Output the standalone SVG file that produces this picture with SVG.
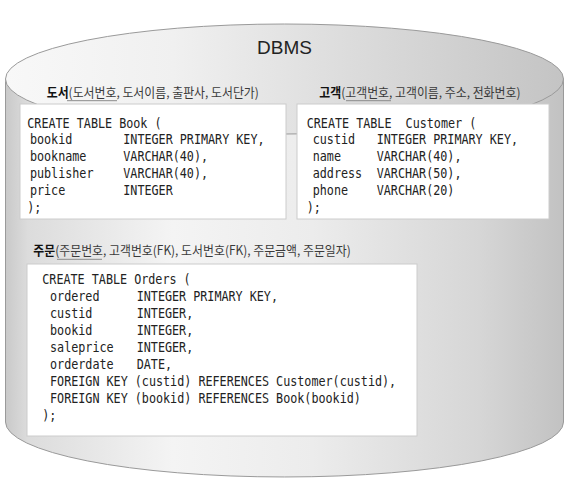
<svg xmlns="http://www.w3.org/2000/svg" width="569" height="487" viewBox="0 0 569 487">
<defs>
<linearGradient id="gBody" x1="0" y1="0" x2="1" y2="0">
<stop offset="0" stop-color="#c9c9c9"/>
<stop offset="0.04" stop-color="#dcdcdc"/>
<stop offset="0.3" stop-color="#f4f4f4"/>
<stop offset="0.55" stop-color="#ececec"/>
<stop offset="0.85" stop-color="#d6d6d6"/>
<stop offset="1" stop-color="#c2c2c2"/>
</linearGradient>
<linearGradient id="gTop" x1="0" y1="0" x2="1" y2="0">
<stop offset="0" stop-color="#f8f8f8"/>
<stop offset="0.3" stop-color="#f0f0f0"/>
<stop offset="0.6" stop-color="#dddddd"/>
<stop offset="1" stop-color="#c4c4c4"/>
</linearGradient>
</defs>
<style>
.cyl{stroke:#9a9a9a;stroke-width:1}
.box{fill:#ffffff;stroke:#cccccc;stroke-width:1}
.code{font-family:"DejaVu Sans Mono","Liberation Mono",monospace;font-size:13.5px;fill:#222222;white-space:pre}
.lbl{font-family:"Noto Sans CJK KR","Noto Sans",sans-serif;font-size:12.8px;fill:#3a3a3a}
.lbl .b{font-weight:bold;fill:#111111}
.ul{stroke:#8a8a8a;stroke-width:1}
.title{font-family:"Liberation Sans",Arial,sans-serif;font-size:19px;fill:#222222}
</style>
<g id="dbms">
<path class="cyl" d="M5.5,79 L5.5,422 A279,55 0 0 0 563.5,422 L563.5,79 Z" fill="url(#gBody)"/>
<ellipse class="cyl" cx="284.5" cy="79" rx="279" ry="55" fill="url(#gTop)"/>
<text class="title" x="284.5" y="54" text-anchor="middle">DBMS</text>
</g>
<g id="book">
<g transform="translate(46.7,97) scale(0.93,1)"><text class="lbl" x="0" y="0"><tspan class="b">도서</tspan>(도서번호, 도서이름, 출판사, 도서단가)</text></g>
<line class="ul" x1="67" y1="100.7" x2="117" y2="100.7"/>
<rect class="box" x="20" y="104" width="266" height="115"/>
<g transform="translate(27.3,127.5) scale(0.87,1)">
<text class="code" x="0" y="0">CREATE TABLE Book (</text>
<text class="code" x="3" y="17">bookid</text><text class="code" x="110.3" y="17">INTEGER PRIMARY KEY,</text>
<text class="code" x="3" y="34">bookname</text><text class="code" x="110.3" y="34">VARCHAR(40),</text>
<text class="code" x="3" y="51">publisher</text><text class="code" x="110.3" y="51">VARCHAR(40),</text>
<text class="code" x="3" y="68">price</text><text class="code" x="110.3" y="68">INTEGER</text>
<text class="code" x="0" y="85">);</text>
</g>
</g>
<g id="customer">
<g transform="translate(319.3,97) scale(0.93,1)"><text class="lbl" x="0" y="0"><tspan class="b">고객</tspan>(고객번호, 고객이름, 주소, 전화번호)</text></g>
<line class="ul" x1="346" y1="100.7" x2="391" y2="100.7"/>
<rect class="box" x="297" y="104" width="252" height="115"/>
<g transform="translate(306.7,127.5) scale(0.87,1)">
<text class="code" x="0" y="0">CREATE TABLE  Customer (</text>
<text class="code" x="6.9" y="17">custid</text><text class="code" x="80.5" y="17">INTEGER PRIMARY KEY,</text>
<text class="code" x="6.9" y="34">name</text><text class="code" x="80.5" y="34">VARCHAR(40),</text>
<text class="code" x="6.9" y="51">address</text><text class="code" x="80.5" y="51">VARCHAR(50),</text>
<text class="code" x="6.9" y="68">phone</text><text class="code" x="80.5" y="68">VARCHAR(20)</text>
<text class="code" x="0" y="85">);</text>
</g>
</g>
<g id="orders">
<g transform="translate(33.3,255) scale(0.93,1)"><text class="lbl" x="0" y="0"><tspan class="b">주문</tspan>(주문번호, 고객번호(FK), 도서번호(FK), 주문금액, 주문일자)</text></g>
<line class="ul" x1="57" y1="259.3" x2="102" y2="259.3"/>
<rect class="box" x="27" y="264" width="390" height="172"/>
<g transform="translate(42.3,284) scale(0.87,1)">
<text class="code" x="0" y="0">CREATE TABLE Orders (</text>
<text class="code" x="8.9" y="17">ordered</text><text class="code" x="108.5" y="17">INTEGER PRIMARY KEY,</text>
<text class="code" x="8.9" y="34">custid</text><text class="code" x="108.5" y="34">INTEGER,</text>
<text class="code" x="8.9" y="51">bookid</text><text class="code" x="108.5" y="51">INTEGER,</text>
<text class="code" x="8.9" y="68">saleprice</text><text class="code" x="108.5" y="68">INTEGER,</text>
<text class="code" x="8.9" y="85">orderdate</text><text class="code" x="108.5" y="85">DATE,</text>
<text class="code" x="8.9" y="102">FOREIGN KEY (custid) REFERENCES Customer(custid),</text>
<text class="code" x="8.9" y="119">FOREIGN KEY (bookid) REFERENCES Book(bookid)</text>
<text class="code" x="0" y="136">);</text>
</g>
</g>
<g id="connectors"/>
</svg>
